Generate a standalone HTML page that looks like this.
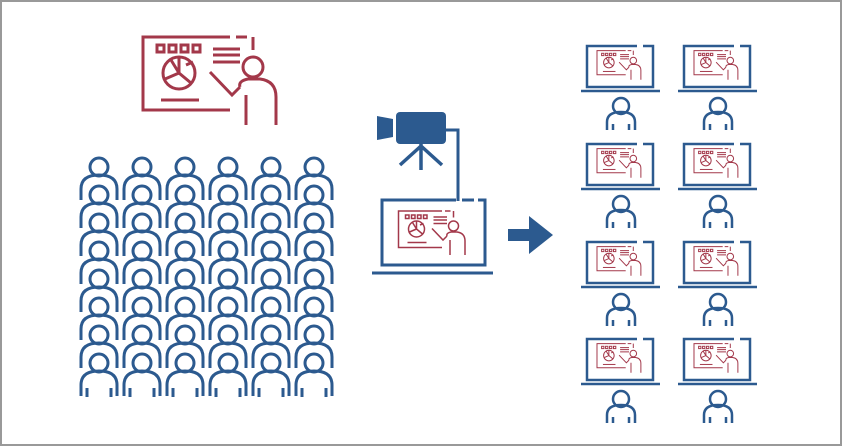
<!DOCTYPE html>
<html><head><meta charset="utf-8"><style>
html,body{margin:0;padding:0;background:#fff}
svg{display:block}
</style></head><body>
<svg width="842" height="446" viewBox="0 0 842 446" xmlns="http://www.w3.org/2000/svg">
<defs>
<g id="pres" fill="none" stroke="#a3384a" stroke-width="3">
  <path d="M90 75 H3 V2 H90"/>
  <path d="M96 2 H107 M113 2 V15"/>
  <rect x="17" y="10" width="7" height="7"/><rect x="29" y="10" width="7" height="7"/><rect x="41" y="10" width="7" height="7"/><rect x="53" y="10" width="7" height="7"/>
  <path d="M73 14 H100 M73 20 H100 M73 27 H100"/>
  <circle cx="39" cy="38" r="16"/>
  <path d="M39 22 V38 L51 48 M39 38 L25 44 M39 38 L31 25 M46 30 L53 27"/>
  <path d="M21 65 H59"/>
  <circle cx="113" cy="32" r="10"/>
  <path d="M70 37 L92 60 L100 52 M100 52 Q98 46 108 44 H120 Q136 46 136 62 V90 M106 60 V90"/>
</g>
<g id="aud" fill="none" stroke-linecap="butt">
  <g stroke="#fff" stroke-width="8"><circle cx="0" cy="0" r="9"/><path d="M-18 33 V22 Q-18 8 0 8 Q18 8 18 22 V33"/></g>
  <g stroke="#2c5a8f" stroke-width="3"><circle cx="0" cy="0" r="9"/><path d="M-18 33 V22 Q-18 8 0 8 Q18 8 18 22 V33"/></g>
</g>
<g id="lap">
  <path d="M52 2 H2 V43 H68 V2 H58" fill="none" stroke="#2c5a8f" stroke-width="2.5"/>
  <path d="M-4 47 H75" stroke="#2c5a8f" stroke-width="2.5"/>
  <use href="#pres" transform="translate(11,6) scale(0.33)"/>
  <circle cx="36" cy="62" r="8" fill="none" stroke="#2c5a8f" stroke-width="2.5"/>
  <path d="M22 86 V78 Q22 68 36 68 Q50 68 50 78 V86 M28 80 V86 M44 80 V86" fill="none" stroke="#2c5a8f" stroke-width="2.5"/>
</g>
</defs>
<rect x="1" y="1" width="840" height="444" fill="#fff" stroke="#999" stroke-width="2"/>
<use href="#pres" transform="translate(140,35)"/>
<g>
<use href="#aud" x="99" y="167"/><use href="#aud" x="142" y="167"/><use href="#aud" x="185" y="167"/><use href="#aud" x="228" y="167"/><use href="#aud" x="271" y="167"/><use href="#aud" x="314" y="167"/>
<use href="#aud" x="99" y="195"/><use href="#aud" x="142" y="195"/><use href="#aud" x="185" y="195"/><use href="#aud" x="228" y="195"/><use href="#aud" x="271" y="195"/><use href="#aud" x="314" y="195"/>
<use href="#aud" x="99" y="223"/><use href="#aud" x="142" y="223"/><use href="#aud" x="185" y="223"/><use href="#aud" x="228" y="223"/><use href="#aud" x="271" y="223"/><use href="#aud" x="314" y="223"/>
<use href="#aud" x="99" y="251"/><use href="#aud" x="142" y="251"/><use href="#aud" x="185" y="251"/><use href="#aud" x="228" y="251"/><use href="#aud" x="271" y="251"/><use href="#aud" x="314" y="251"/>
<use href="#aud" x="99" y="279"/><use href="#aud" x="142" y="279"/><use href="#aud" x="185" y="279"/><use href="#aud" x="228" y="279"/><use href="#aud" x="271" y="279"/><use href="#aud" x="314" y="279"/>
<use href="#aud" x="99" y="307"/><use href="#aud" x="142" y="307"/><use href="#aud" x="185" y="307"/><use href="#aud" x="228" y="307"/><use href="#aud" x="271" y="307"/><use href="#aud" x="314" y="307"/>
<use href="#aud" x="99" y="335"/><use href="#aud" x="142" y="335"/><use href="#aud" x="185" y="335"/><use href="#aud" x="228" y="335"/><use href="#aud" x="271" y="335"/><use href="#aud" x="314" y="335"/>
<use href="#aud" x="99" y="363"/><use href="#aud" x="142" y="363"/><use href="#aud" x="185" y="363"/><use href="#aud" x="228" y="363"/><use href="#aud" x="271" y="363"/><use href="#aud" x="314" y="363"/>
</g>
<path d="M87 388 V397 M111 388 V397 M130 388 V397 M154 388 V397 M173 388 V397 M197 388 V397 M216 388 V397 M240 388 V397 M259 388 V397 M283 388 V397 M302 388 V397 M326 388 V397" stroke="#2c5a8f" stroke-width="3"/>
<rect x="396" y="112" width="50" height="32" rx="4" fill="#2c5a8f"/>
<path d="M377 116 L393 119 V137 L377 140 Z" fill="#2c5a8f"/>
<path d="M421 144 V170 M421 146 L400 165 M421 146 L442 165" stroke="#2c5a8f" stroke-width="3.5" fill="none"/>
<path d="M425 130 H458 V201" stroke="#2c5a8f" stroke-width="3" fill="none"/>
<path d="M456 200 H382 V265 H485 V200 H478 M462 200 H474" fill="none" stroke="#2c5a8f" stroke-width="3"/>
<path d="M372 273 H493" stroke="#2c5a8f" stroke-width="3"/>
<use href="#pres" transform="translate(397,210) scale(0.5)"/>
<path d="M508 229 H529 V216 L553 235 L529 254 V241 H508 Z" fill="#2c5a8f"/>
<use href="#lap" x="585" y="44"/><use href="#lap" x="682" y="44"/>
<use href="#lap" x="585" y="142"/><use href="#lap" x="682" y="142"/>
<use href="#lap" x="585" y="240"/><use href="#lap" x="682" y="240"/>
<use href="#lap" x="585" y="337"/><use href="#lap" x="682" y="337"/>
</svg>
</body></html>
